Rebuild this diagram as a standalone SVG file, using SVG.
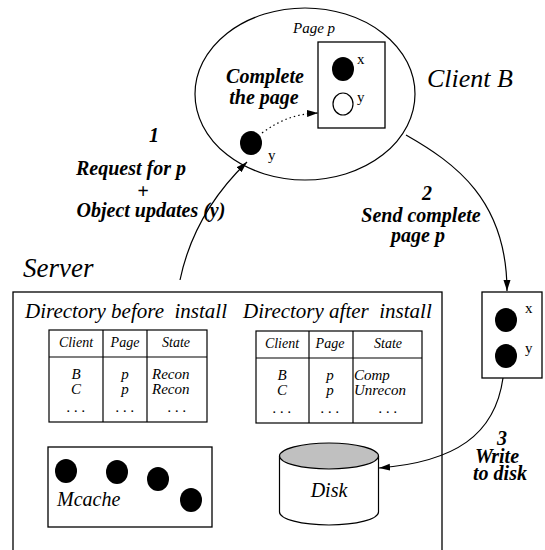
<svg xmlns="http://www.w3.org/2000/svg" width="545" height="550" viewBox="0 0 545 550">
<defs>
<marker id="ah" markerUnits="userSpaceOnUse" markerWidth="12" markerHeight="8" refX="11" refY="4" orient="auto">
<path d="M0,0.5 L11,4 L0,7.5 Z" fill="#000"/>
</marker>
</defs>
<style>
.ln{fill:none;stroke:#000;stroke-width:1.2}
.box{fill:#fff;stroke:#000;stroke-width:1.3}
.dot{fill:#000}
.bi{font-family:"Liberation Serif",serif;font-style:italic;font-weight:bold;font-size:20px;text-anchor:middle}
.it{font-family:"Liberation Serif",serif;font-style:italic}
.rm{font-family:"Liberation Serif",serif;font-size:15px}
.hd{font-family:"Liberation Serif",serif;font-style:italic;font-size:14px;text-anchor:middle}
.cl{font-family:"Liberation Serif",serif;font-style:italic;font-size:15px}
</style>
<rect width="545" height="550" fill="#fff"/>

<g id="clientB">
<ellipse cx="305" cy="94" rx="110" ry="86" class="ln"/>
<text x="427" y="87" class="it" font-size="26">Client B</text>
<text x="293" y="33" class="it" font-size="15">Page p</text>
<rect x="318" y="42" width="67" height="86" class="box"/>
<ellipse cx="343" cy="69" rx="11" ry="12" class="dot"/>
<text x="357" y="64" class="rm">x</text>
<ellipse cx="343" cy="104" rx="10" ry="11" fill="#fff" stroke="#000" stroke-width="1.2"/>
<text x="357" y="102" class="rm">y</text>
<text x="265" y="83" class="bi">Complete</text>
<text x="264" y="104" class="bi">the page</text>
<ellipse cx="251" cy="143" rx="11" ry="12" class="dot"/>
<text x="268" y="160" class="rm">y</text>
</g>

<g id="pageCopy">
<rect x="482" y="292" width="60" height="86" class="box"/>
<ellipse cx="506" cy="320" rx="11" ry="12" class="dot"/>
<text x="525" y="313" class="rm">x</text>
<ellipse cx="506" cy="356" rx="11" ry="12" class="dot"/>
<text x="525" y="353" class="rm">y</text>
</g>

<g id="server">
<text x="23" y="277" class="it" font-size="27">Server</text>
<rect x="13" y="292" width="429" height="290" class="box"/>
<text x="25" y="318" class="it" font-size="21" style="white-space:pre">Directory before  install</text>
<text x="243" y="318" class="it" font-size="21" style="white-space:pre">Directory after  install</text>
</g>

<g id="tableBefore">
<rect x="49" y="330" width="158" height="92" class="ln"/>
<line x1="49" y1="357" x2="207" y2="357" class="ln"/>
<line x1="103" y1="330" x2="103" y2="422" class="ln"/>
<line x1="147" y1="330" x2="147" y2="422" class="ln"/>
<text x="76" y="347" class="hd">Client</text>
<text x="125" y="347" class="hd">Page</text>
<text x="176" y="347" class="hd">State</text>
<text x="76" y="379" class="cl" text-anchor="middle">B</text>
<text x="76" y="394" class="cl" text-anchor="middle">C</text>
<text x="125" y="379" class="cl" text-anchor="middle">p</text>
<text x="125" y="394" class="cl" text-anchor="middle">p</text>
<text x="152" y="379" class="cl">Recon</text>
<text x="152" y="394" class="cl">Recon</text>
<text x="76" y="412" class="cl" text-anchor="middle">. . .</text>
<text x="125" y="412" class="cl" text-anchor="middle">. . .</text>
<text x="177" y="412" class="cl" text-anchor="middle">. . .</text>
</g>

<g id="tableAfter">
<rect x="256" y="331" width="166" height="92" class="ln"/>
<line x1="256" y1="358" x2="422" y2="358" class="ln"/>
<line x1="309" y1="331" x2="309" y2="423" class="ln"/>
<line x1="353" y1="331" x2="353" y2="423" class="ln"/>
<text x="282" y="348" class="hd">Client</text>
<text x="330" y="348" class="hd">Page</text>
<text x="388" y="348" class="hd">State</text>
<text x="282" y="380" class="cl" text-anchor="middle">B</text>
<text x="282" y="395" class="cl" text-anchor="middle">C</text>
<text x="330" y="380" class="cl" text-anchor="middle">p</text>
<text x="330" y="395" class="cl" text-anchor="middle">p</text>
<text x="354" y="380" class="cl">Comp</text>
<text x="354" y="395" class="cl">Unrecon</text>
<text x="282" y="413" class="cl" text-anchor="middle">. . .</text>
<text x="330" y="413" class="cl" text-anchor="middle">. . .</text>
<text x="388" y="413" class="cl" text-anchor="middle">. . .</text>
</g>

<g id="mcache">
<rect x="48" y="447" width="164" height="80" class="box"/>
<ellipse cx="66" cy="471" rx="11" ry="12" class="dot"/>
<ellipse cx="117" cy="472" rx="11" ry="12" class="dot"/>
<ellipse cx="158" cy="479" rx="11" ry="12" class="dot"/>
<ellipse cx="191" cy="500" rx="11" ry="12" class="dot"/>
<text x="57" y="506" class="it" font-size="20">Mcache</text>
</g>

<g id="disk">
<path d="M279.5,456 L279.5,512 A49.5,13 0 0 0 378.5,512 L378.5,456" fill="#fff" stroke="#000" stroke-width="1.2"/>
<ellipse cx="329" cy="456" rx="49.5" ry="13" fill="#c0c0c0" stroke="#000" stroke-width="1.2"/>
<text x="329" y="497" class="it" font-size="20" text-anchor="middle">Disk</text>
</g>

<g id="connectors">
<path d="M180,280 C190,232 215,193 247,162" class="ln" marker-end="url(#ah)"/>
<path d="M262,133 C280,120 295,114 318,113" class="ln" stroke-dasharray="1.5,3" marker-end="url(#ah)"/>
<path d="M406,135 C455,163 507,200 507,291" class="ln" marker-end="url(#ah)"/>
<path d="M503,378 C495,435 455,462 379,468" class="ln" marker-end="url(#ah)"/>
</g>

<g id="labels">
<text x="154" y="142" class="bi">1</text>
<text x="131" y="175" class="bi">Request for p</text>
<text x="143" y="198" class="bi">+</text>
<text x="151" y="217" class="bi">Object updates (y)</text>
<text x="427" y="200" class="bi">2</text>
<text x="421" y="222" class="bi">Send complete</text>
<text x="418" y="242" class="bi">page p</text>
<text x="502" y="445" class="bi">3</text>
<text x="497" y="463" class="bi">Write</text>
<text x="500" y="480" class="bi">to disk</text>
</g>
</svg>
